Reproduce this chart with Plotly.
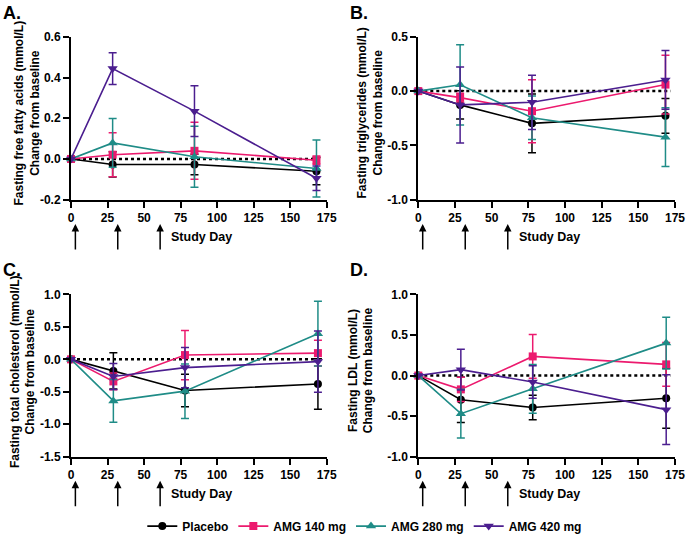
import plotly.graph_objects as go

# ---------------- data ----------------
groups = ["Placebo", "AMG 140 mg", "AMG 280 mg", "AMG 420 mg"]
colors = ["#000000", "#EC1A6E", "#1F8C87", "#4B1E8F"]
symbols = ["circle", "square", "triangle-up", "triangle-down"]

days_A = [0, 28.5, 84.5, 168]
days_B = [0, 28.5, 77.5, 168.5]
days_C = [0, 29, 78, 169]
days_D = [0, 29, 78, 169]
dose_days = [3, 32, 61]

# A. fasting free fatty acids (mean, SE)
ffa_placebo = [0, -0.027, -0.027, -0.060]
ffa_140 = [0, 0.021, 0.040, -0.006]
ffa_280 = [0, 0.079, 0.011, -0.047]
ffa_420 = [0, 0.444, 0.235, -0.095]
ffa_placebo_se = [None, 0.062, 0.050, 0.067]
ffa_140_se = [None, 0.108, 0.140, 0.020]
ffa_280_se = [None, 0.120, 0.150, 0.140]
ffa_420_se = [None, 0.078, 0.125, 0.060]

# B. fasting triglycerides
tg_placebo = [0, -0.127, -0.297, -0.227]
tg_140 = [0, -0.060, -0.185, 0.060]
tg_280 = [0, 0.058, -0.245, -0.424]
tg_420 = [0, -0.127, -0.103, 0.103]
tg_placebo_se = [None, 0.13, 0.27, 0.16]
tg_140_se = [None, 0.04, 0.29, 0.27]
tg_280_se = [None, 0.37, 0.20, 0.27]
tg_420_se = [None, 0.35, 0.25, 0.27]

# C. fasting total cholesterol
tc_placebo = [0, -0.178, -0.480, -0.380]
tc_140 = [0, -0.340, 0.066, 0.096]
tc_280 = [0, -0.640, -0.490, 0.396]
tc_420 = [0, -0.264, -0.127, -0.035]
tc_placebo_se = [None, 0.28, 0.25, 0.39]
tc_140_se = [None, 0.13, 0.38, 0.20]
tc_280_se = [None, 0.33, 0.42, 0.50]
tc_420_se = [None, 0.20, 0.31, 0.47]

# D. fasting LDL
ldl_placebo = [0, -0.297, -0.394, -0.280]
ldl_140 = [0, -0.170, 0.236, 0.138]
ldl_280 = [0, -0.470, -0.163, 0.400]
ldl_420 = [0, 0.073, -0.080, -0.420]
ldl_placebo_se = [None, 0.28, 0.15, 0.37]
ldl_140_se = [None, 0.15, 0.27, 0.27]
ldl_280_se = [None, 0.30, 0.30, 0.32]
ldl_420_se = [None, 0.25, 0.20, 0.43]

x_ticks = [0, 25, 50, 75, 100, 125, 150, 175]
x_ticktext = ["0", "25", "50", "75", "100", "125", "150", "175"]
yA_ticks = [-0.2, 0.0, 0.2, 0.4, 0.6]
yA_text = ["-0.2", "0.0", "0.2", "0.4", "0.6"]
yB_ticks = [-1.0, -0.5, 0.0, 0.5]
yB_text = ["-1.0", "-0.5", "0.0", "0.5"]
yC_ticks = [-1.5, -1.0, -0.5, 0.0, 0.5, 1.0]
yC_text = ["-1.5", "-1.0", "-0.5", "0.0", "0.5", "1.0"]
yD_ticks = [-1.0, -0.5, 0.0, 0.5, 1.0]
yD_text = ["-1.0", "-0.5", "0.0", "0.5", "1.0"]

panel_titles = [
    "Fasting free fatty acids (mmol/L)<br>Change from baseline",
    "Fasting triglycerides (mmol/L)<br>Change from baseline",
    "Fasting total cholesterol (mmol/L)<br>Change from baseline",
    "Fasting LDL (mmol/L)<br>Change from baseline",
]
panel_letters = ["A.", "B.", "C.", "D."]

# ---------------- figure ----------------
W, H = 687, 541
FONT = "Liberation Sans, Arial, sans-serif"

fig = go.Figure()

panels = [
    (days_A, [ffa_placebo, ffa_140, ffa_280, ffa_420],
     [ffa_placebo_se, ffa_140_se, ffa_280_se, ffa_420_se], "x", "y"),
    (days_B, [tg_placebo, tg_140, tg_280, tg_420],
     [tg_placebo_se, tg_140_se, tg_280_se, tg_420_se], "x2", "y2"),
    (days_C, [tc_placebo, tc_140, tc_280, tc_420],
     [tc_placebo_se, tc_140_se, tc_280_se, tc_420_se], "x3", "y3"),
    (days_D, [ldl_placebo, ldl_140, ldl_280, ldl_420],
     [ldl_placebo_se, ldl_140_se, ldl_280_se, ldl_420_se], "x4", "y4"),
]

for pi, (days, means, ses, xa, ya) in enumerate(panels):
    for gi in range(4):
        fig.add_trace(go.Scatter(
            x=days, y=means[gi], name=groups[gi],
            xaxis=xa, yaxis=ya,
            mode="lines+markers",
            line=dict(color=colors[gi], width=1.6),
            marker=dict(symbol=symbols[gi], size=9 if gi >= 2 else 8, color=colors[gi]),
            error_y=dict(type="data", array=ses[gi], visible=True,
                         color=colors[gi], thickness=1.5, width=4),
            cliponaxis=False,
            showlegend=(pi == 0),
        ))


def px_dom_x(a, b):
    return [a / W, b / W]


def px_dom_y(top, bottom):
    return [1 - bottom / H, 1 - top / H]


axis_font = dict(family=FONT, size=12, color="black", weight="bold")


def xaxis(dom, anchor):
    return dict(domain=dom, anchor=anchor, range=[0, 175], automargin=False,
                tickvals=x_ticks, ticktext=x_ticktext,
                showline=True, linecolor="black", linewidth=2,
                ticks="outside", ticklen=6, tickwidth=2, tickcolor="black",
                showgrid=False, zeroline=False, tickfont=axis_font)


def yaxis(dom, anchor, rng, tv, tt):
    return dict(domain=dom, anchor=anchor, range=rng, automargin=False,
                tickvals=tv, ticktext=tt,
                showline=True, linecolor="black", linewidth=2,
                ticks="outside", ticklen=6, tickwidth=2, tickcolor="black",
                showgrid=False, zeroline=False, tickfont=axis_font)


top_dom = px_dom_y(37.3, 202.3)
bot_dom = px_dom_y(298.3, 462.7)
left_dom = px_dom_x(71, 326.7)
right_dom = px_dom_x(418.3, 675)

fig.update_layout(
    template="none",
    width=W, height=H, autosize=False,
    margin=dict(l=0, r=0, t=0, b=0, pad=0),
    paper_bgcolor="white", plot_bgcolor="white",
    font=dict(family=FONT, size=12, color="black"),
    xaxis=xaxis(left_dom, "y"),
    yaxis=yaxis(top_dom, "x", [-0.2, 0.6], yA_ticks, yA_text),
    xaxis2=xaxis(right_dom, "y2"),
    yaxis2=yaxis(top_dom, "x2", [-1.0, 0.5], yB_ticks, yB_text),
    xaxis3=xaxis(left_dom, "y3"),
    yaxis3=yaxis(bot_dom, "x3", [-1.5, 1.0], yC_ticks, yC_text),
    xaxis4=xaxis(right_dom, "y4"),
    yaxis4=yaxis(bot_dom, "x4", [-1.0, 1.0], yD_ticks, yD_text),
    legend=dict(orientation="h", x=0.531, xanchor="center",
                y=1 - 533 / H, yanchor="middle",
                font=dict(family=FONT, size=12, color="black", weight="bold"),
                bgcolor="rgba(0,0,0,0)"),
)

# dotted zero lines
for xa, ya in [("x", "y"), ("x2", "y2"), ("x3", "y3"), ("x4", "y4")]:
    fig.add_shape(type="line", xref=xa, yref=ya, x0=0, x1=172, y0=0, y1=0,
                  line=dict(color="black", width=2.5, dash="dot"), layer="below")

# y-axis titles
title_pos = [(27, 115), (370, 115), (23, 377), (361, 375)]
for (tx, ty), t in zip(title_pos, panel_titles):
    fig.add_annotation(text=t, xref="paper", yref="paper", x=tx / W, y=1 - ty / H,
                       xanchor="center", yanchor="middle", textangle=-90,
                       showarrow=False,
                       font=dict(family=FONT, size=12, color="black", weight="bold"))

# panel letters
letter_pos = [(1, 1), (348, 1), (1, 261), (348, 261)]
for (lx, ly), t in zip(letter_pos, panel_letters):
    fig.add_annotation(text=t, xref="paper", yref="paper", x=lx / W, y=1 - ly / H,
                       xanchor="left", yanchor="top", showarrow=False,
                       font=dict(family=FONT, size=18, color="black", weight="bold"))

# dosing arrows and "Study Day"
for xa, tip, mid in [("x", 227, 240), ("x2", 227, 240), ("x3", 487, 500), ("x4", 487, 500)]:
    for d in dose_days:
        fig.add_annotation(x=d, xref=xa, y=1 - tip / H, yref="paper",
                           ax=0, ay=27, axref="pixel", ayref="pixel",
                           text="", showarrow=True, arrowhead=2, arrowsize=1,
                           arrowwidth=1.5, arrowcolor="black")
    fig.add_annotation(x=67, xref=xa, y=1 - mid / H, yref="paper",
                       text="Study Day", showarrow=False, xanchor="left", yanchor="middle",
                       font=dict(family=FONT, size=12.5, color="black", weight="bold"))

fig.write_html(
    "out.html",
    config={"displayModeBar": False},
    post_script="document.body.style.margin='0';document.body.style.padding='0';"
                "document.body.style.overflow='hidden';",
)
